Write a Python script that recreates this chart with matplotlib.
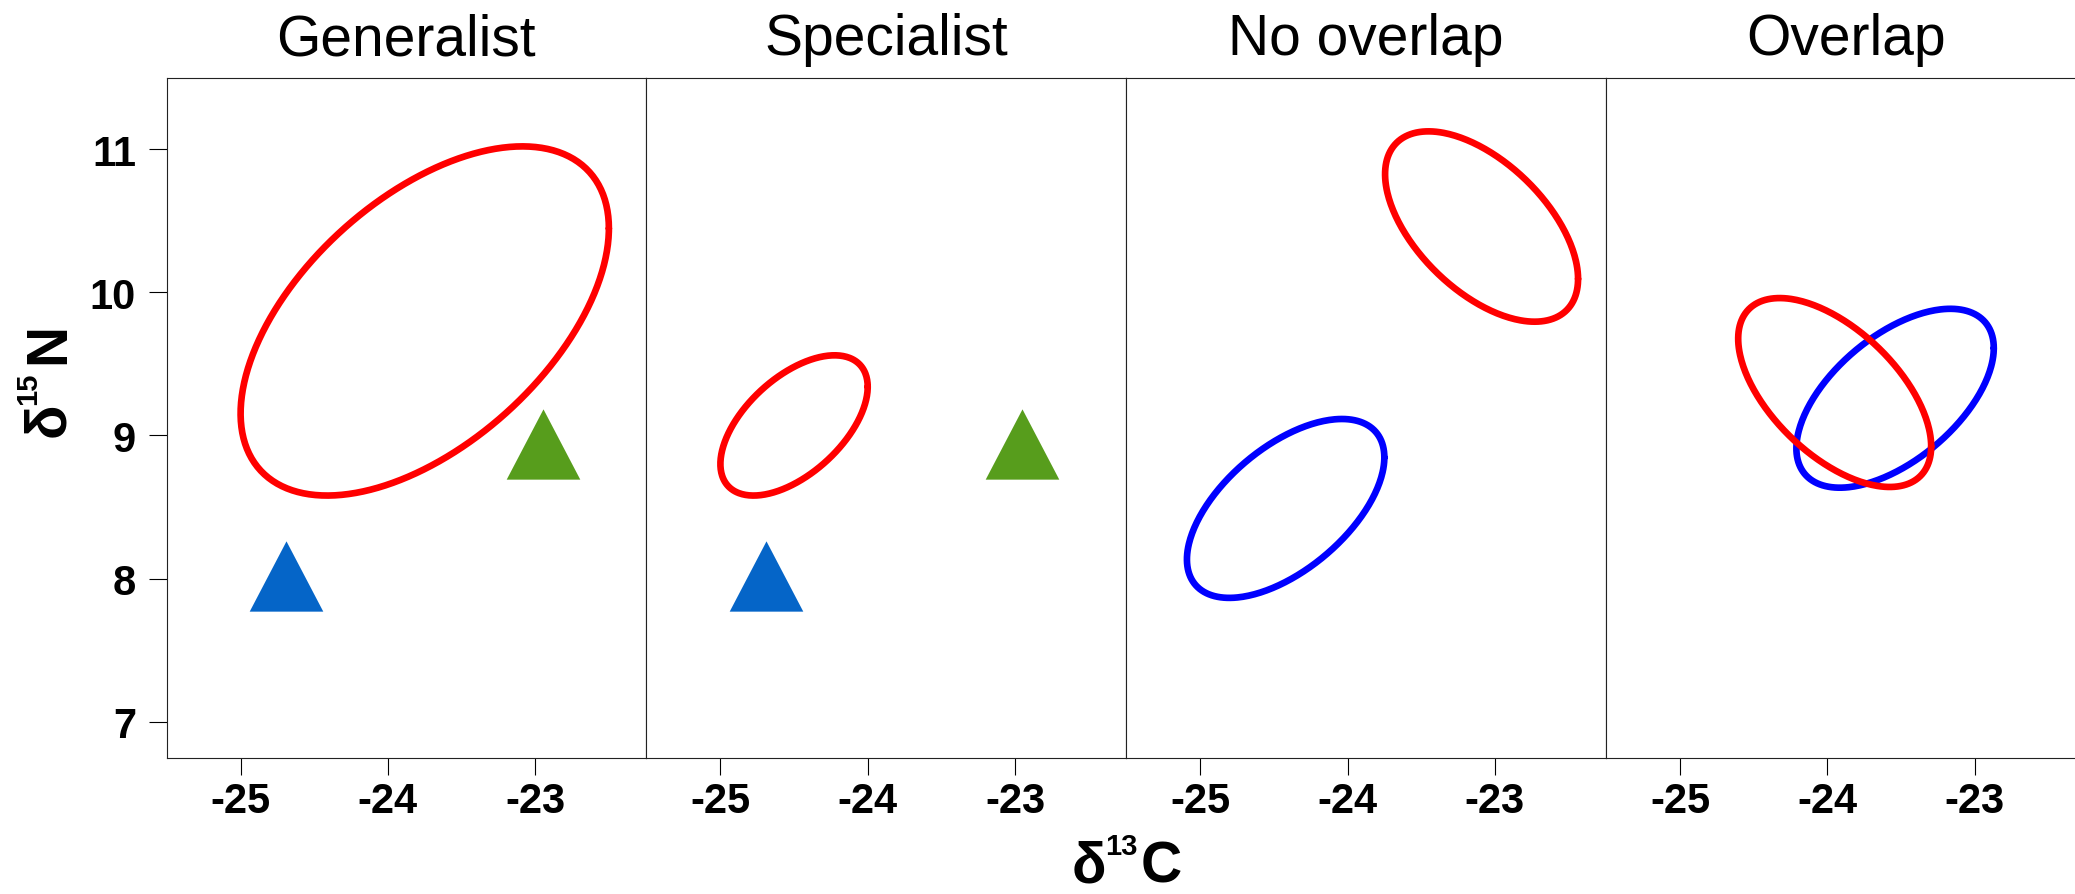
import numpy as np
import matplotlib
matplotlib.use("Agg")
from matplotlib import pyplot as plt

plt.rcParams["font.family"] = ["Liberation Sans", "DejaVu Sans"]

W, H = 2075, 895

panel_titles = ["Generalist", "Specialist", "No overlap", "Overlap"]

# isotopic niche ellipses: panel, colour, centre, spread along each axis, correlation
ell_panel = [0, 1, 2, 2, 3, 3]
ell_color = ["#FF0000", "#FF0000", "#0000FF", "#FF0000", "#0000FF", "#FF0000"]
ell_mean_c = [-23.75, -24.50, -24.42, -23.09, -23.54, -23.95]
ell_mean_n = [9.80, 9.07, 8.49, 10.46, 9.26, 9.30]
ell_sd_c = [1.25, 0.50, 0.67, 0.655, 0.67, 0.655]
ell_sd_n = [1.22, 0.49, 0.625, 0.665, 0.625, 0.66]
ell_rho = [0.53, 0.55, 0.57, -0.55, 0.56, -0.57]

# food sources (triangles)
src_panel = [0, 0, 1, 1]
src_c = [-24.69, -22.95, -24.69, -22.95]
src_n = [8.02, 8.94, 8.02, 8.94]
src_color = ["#0565C8", "#579D1C", "#0565C8", "#579D1C"]

x_ticks = [-25, -24, -23]
y_ticks = [7, 8, 9, 10, 11]
x_lim = (-25.503, -22.246)
y_lim = (6.746, 11.5)


def px(x, y):
    return x / W, 1 - y / H


fig = plt.figure(figsize=(W / 100, H / 100), dpi=100)

left, pw, top, bottom = 166.5, 479.8, 78.7, 759.0
tri = [(0, 1), (-1.047, -1), (1.047, -1)]
t = np.linspace(0, 2 * np.pi, 300)

axes = []
for i, title in enumerate(panel_titles):
    x0, y0 = px(left + i * pw, bottom)
    ax = fig.add_axes([x0, y0, pw / W, (bottom - top) / H])
    ax.set_xlim(*x_lim)
    ax.set_ylim(*y_lim)
    ax.set_xticks(x_ticks)
    ax.set_xticklabels([str(v) for v in x_ticks], fontsize=30, fontweight="bold")
    ax.tick_params(axis="x", direction="out", length=12.5, width=0.8, pad=4)
    if i == 0:
        ax.set_yticks(y_ticks)
        ax.set_yticklabels([str(v) for v in y_ticks], fontsize=30, fontweight="bold")
        ax.tick_params(axis="y", direction="out", length=13, width=0.8, pad=9)
    else:
        ax.set_yticks([])
    for s in ax.spines.values():
        s.set_linewidth(0.8)
        s.set_color("#222222")
    ax.set_title(title, fontsize=41, pad=17)
    axes.append(ax)

for k in range(len(ell_panel)):
    r = ell_rho[k]
    ex = ell_mean_c[k] + ell_sd_c[k] * np.cos(t)
    ey = ell_mean_n[k] + ell_sd_n[k] * (r * np.cos(t) + np.sqrt(1 - r ** 2) * np.sin(t))
    axes[ell_panel[k]].plot(ex, ey, color=ell_color[k], lw=4.8,
                            solid_joinstyle="round", solid_capstyle="round")

for k in range(len(src_panel)):
    axes[src_panel[k]].plot(src_c[k], src_n[k], marker=tri, ms=53, mew=0,
                            color=src_color[k], linestyle="none")

# axis labels built from pieces so the superscript keeps its small size
xb = 883
fig.text(*px(1072, xb), "δ", fontsize=41, fontweight="bold", ha="left", va="baseline")
fig.text(*px(1105, xb - 28), "13", fontsize=21, fontweight="bold", ha="left", va="baseline")
fig.text(*px(1141, xb), "C", fontsize=41, fontweight="bold", ha="left", va="baseline")

yb = 64
fig.text(*px(yb, 437), "δ", fontsize=41, fontweight="bold", rotation=90,
         rotation_mode="anchor", ha="left", va="baseline")
fig.text(*px(yb - 28, 405), "15", fontsize=21, fontweight="bold", rotation=90,
         rotation_mode="anchor", ha="left", va="baseline")
fig.text(*px(yb, 364), "N", fontsize=41, fontweight="bold", rotation=90,
         rotation_mode="anchor", ha="left", va="baseline")

fig.savefig("out.png", dpi=100)
